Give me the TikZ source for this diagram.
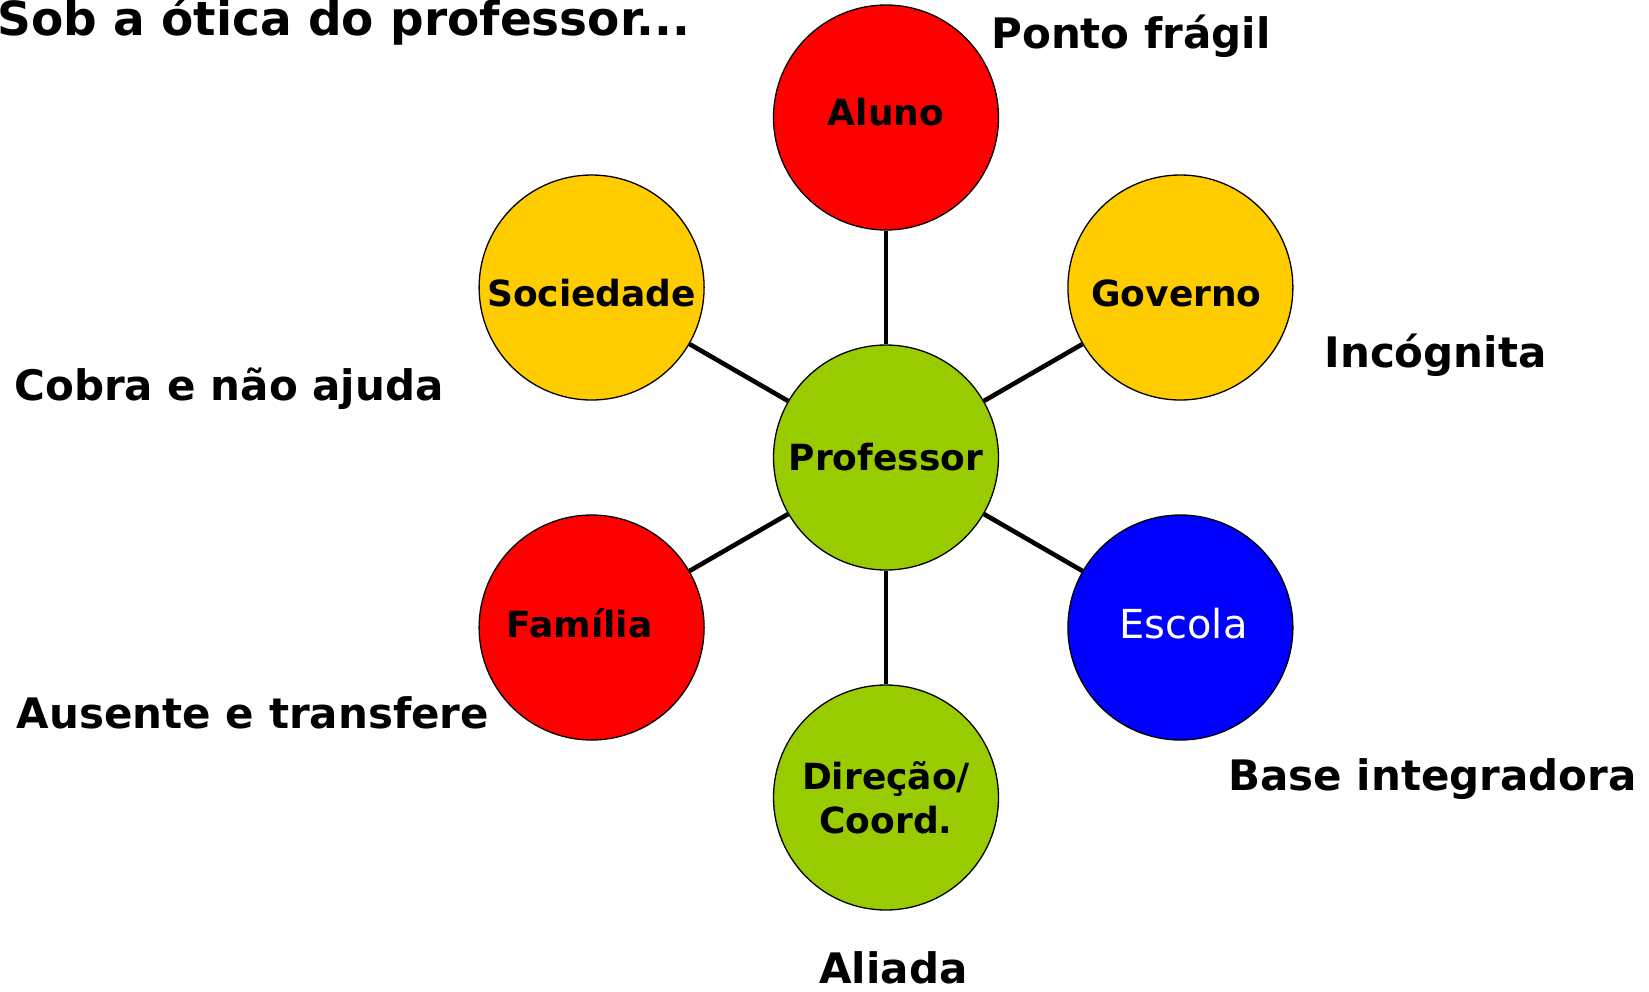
\documentclass[tikz,border=0pt]{standalone}
\usepackage{fontspec}
\setmainfont{DejaVu Sans}
\usetikzlibrary{positioning}
\definecolor{vermelho}{HTML}{FF0000}
\definecolor{amarelo}{HTML}{FFCC00}
\definecolor{verde}{HTML}{99CC00}
\definecolor{azul}{HTML}{0000FF}
\tikzstyle{pessoa}=[draw, circle, line width=1.3pt, minimum size=225pt, inner sep=0pt, align=center, font=\fontsize{36}{44}\selectfont\bfseries]
\tikzstyle{elo}=[line width=4.6pt]
\tikzstyle{rotulo}=[anchor=base, inner sep=0pt, font=\fontsize{42}{50}\selectfont\bfseries]
% moves a name up (or down) inside its circle
\newcommand{\sobe}[2]{\raisebox{#1}[26pt][0pt]{#2}}

\begin{document}
\begin{tikzpicture}[x=1pt, y=-1pt]
    \useasboundingbox (0,0) rectangle (1649,991);
    \node[pessoa, fill=verde] (prof) at (886,457.5) {Professor};
    \node[pessoa, fill=vermelho] (aluno) at (886,117.5) {\sobe{5pt}{Aluno}};
    \node[pessoa, fill=amarelo] (governo) at (1180.4,287.5) {\sobe{-6pt}{Governo}\hspace{8pt}};
    \node[pessoa, fill=amarelo] (sociedade) at (591.6,287.5) {\sobe{-6pt}{Sociedade}};
    \node[pessoa, fill=vermelho] (familia) at (591.6,627.5) {\sobe{3pt}{Família}\hspace{24pt}};
    \node[pessoa, fill=azul, text=white, font=\fontsize{40}{48}\selectfont] (escola) at (1180.4,627.5) {\raisebox{4pt}[29pt][0pt]{Escola}\hspace{-6pt}};
    \node[pessoa, fill=verde] (direcao) at (886,797.5) {Direção/\\Coord.};
    \draw[elo] (prof) -- (aluno);
    \draw[elo] (prof) -- (governo);
    \draw[elo] (prof) -- (escola);
    \draw[elo] (prof) -- (direcao);
    \draw[elo] (prof) -- (familia);
    \draw[elo] (prof) -- (sociedade);
    \node[rotulo, anchor=base west, font=\fontsize{47}{56}\selectfont\bfseries] (titulo) at (-3,35) {Sob a ótica do professor...};
    \node[rotulo] (fragil) at (1131,48) {Ponto frágil};
    \node[rotulo] (incognita) at (1435.5,367) {Incógnita};
    \node[rotulo] (cobra) at (229,400) {Cobra e não ajuda};
    \node[rotulo] (ausente) at (253,728) {Ausente e transfere};
    \node[rotulo] (base) at (1432.5,790) {Base integradora};
    \node[rotulo] (aliada) at (893.5,983) {Aliada};
  \end{tikzpicture}
\end{document}
